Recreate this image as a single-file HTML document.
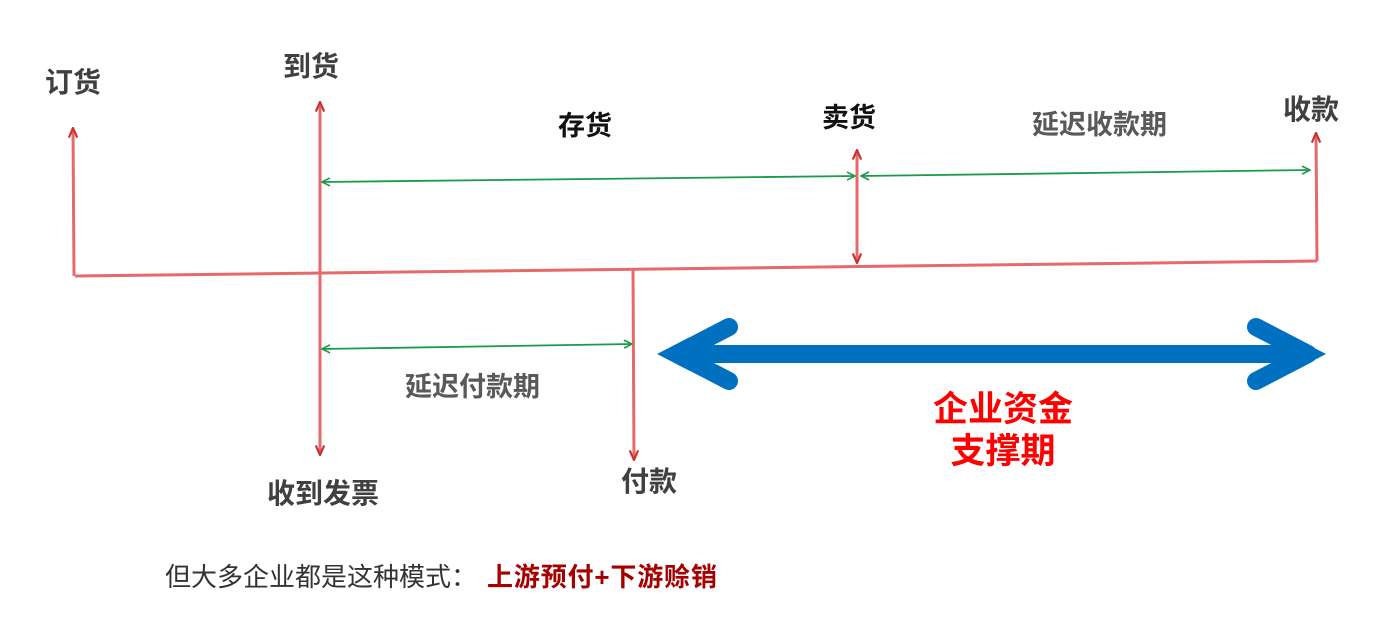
<!DOCTYPE html>
<html><head><meta charset="utf-8"><style>
body{margin:0;width:1378px;height:618px;background:#fff;overflow:hidden}
svg{position:absolute;left:0;top:0}
text{font-family:"Liberation Sans","Noto Sans CJK SC",sans-serif}
</style></head><body>
<svg width="1378" height="618" viewBox="0 0 1378 618">
<defs>
<marker id="r" viewBox="0 0 10 10" refX="9" refY="5" markerWidth="12" markerHeight="12" orient="auto-start-reverse" markerUnits="userSpaceOnUse"><path d="M1,1.5 L9,5 L1,8.5" fill="none" stroke="#cc3030" stroke-width="1.8"/></marker>
<marker id="g" viewBox="0 0 10 10" refX="9" refY="5" markerWidth="10" markerHeight="10" orient="auto-start-reverse" markerUnits="userSpaceOnUse"><path d="M1,1 L9,5 L1,9" fill="none" stroke="#1a9a4a" stroke-width="1.6"/></marker>
</defs>
<g stroke="#e56a6a" stroke-width="3" fill="none">
<line x1="75" y1="276" x2="1317" y2="261"/>
<line x1="74" y1="276" x2="73" y2="128" marker-end="url(#r)"/>
<line x1="320" y1="455" x2="320" y2="102" marker-start="url(#r)" marker-end="url(#r)"/>
<line x1="857" y1="263" x2="857" y2="150" marker-start="url(#r)" marker-end="url(#r)"/>
<line x1="1317" y1="261" x2="1316" y2="133" marker-end="url(#r)"/>
<line x1="633" y1="268" x2="634" y2="460" marker-end="url(#r)"/>
</g>
<g stroke="#1a9a4a" stroke-width="1.8" fill="none">
<line x1="322" y1="182" x2="855" y2="176" marker-start="url(#g)" marker-end="url(#g)"/>
<line x1="861" y1="176" x2="1310" y2="170" marker-start="url(#g)" marker-end="url(#g)"/>
<line x1="322" y1="349" x2="632" y2="344" marker-start="url(#g)" marker-end="url(#g)"/>
</g>
<g stroke="#0070c0" stroke-width="18" stroke-linecap="round" fill="none">
<line x1="685" y1="354" x2="1300" y2="354"/>
<polyline points="729,327 677,354 729,381" stroke-linejoin="round"/>
<polyline points="1256,327 1308,354 1256,381" stroke-linejoin="round"/>
</g>
<polygon points="657,354 690,337 690,371" fill="#0070c0"/>
<polygon points="1326,354 1293,337 1293,371" fill="#0070c0"/>
<g font-weight="bold" font-size="28" fill="#404040">
<text x="45" y="92">订货</text>
<text x="283" y="76">到货</text>
<text x="1283" y="119">收款</text>
<text x="621" y="491">付款</text>
<text x="267" y="503">收到发票</text>
</g>
<g font-weight="bold" font-size="27" fill="#595959">
<text x="1032" y="134">延迟收款期</text>
<text x="405" y="396">延迟付款期</text>
</g>
<g font-weight="bold" font-size="27" fill="#111">
<text x="558" y="135">存货</text>
<text x="822" y="127">卖货</text>
</g>
<g font-weight="bold" font-size="35" fill="#ff0000" text-anchor="middle">
<text x="1003" y="421">企业资金</text>
<text x="1003" y="463">支撑期</text>
</g>
<text x="165" y="586" font-size="26" fill="#333">但大多企业都是这种模式：<tspan x="487" fill="#a50000" font-weight="bold" textLength="230" lengthAdjust="spacing">上游预付+下游赊销</tspan></text>
</svg>
</body></html>
